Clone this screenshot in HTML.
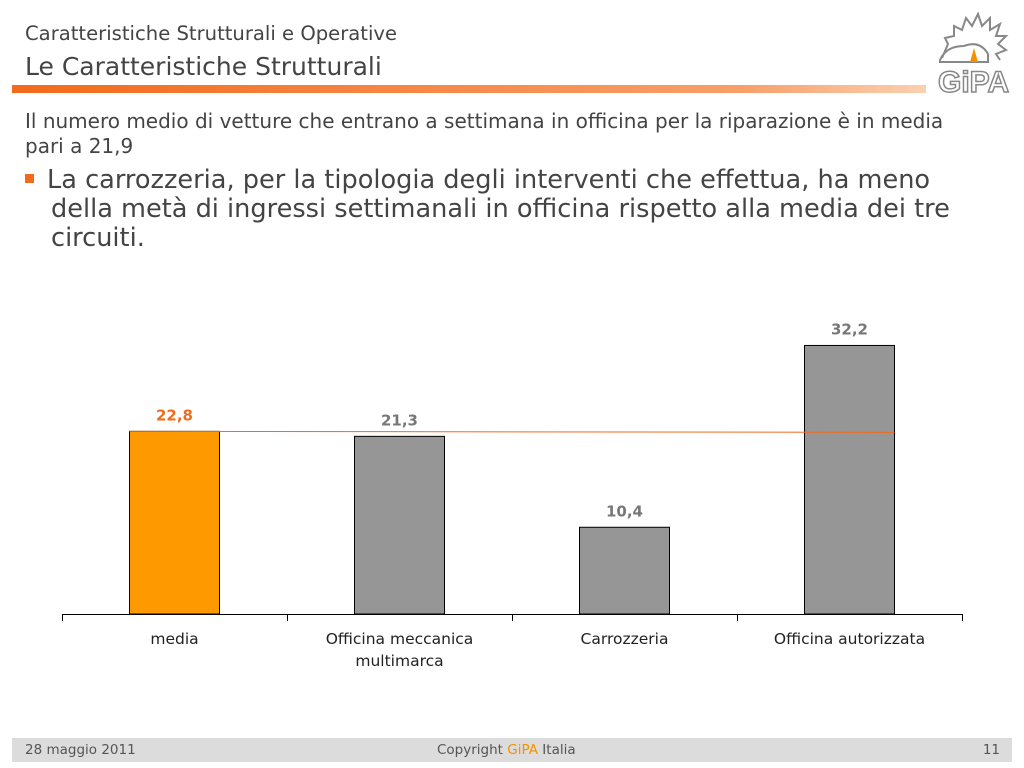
<!DOCTYPE html>
<html><head><meta charset="utf-8"><style>
body{margin:0;width:1024px;height:768px;background:#fff;position:relative;overflow:hidden;font-family:"DejaVu Sans","Liberation Sans",sans-serif;color:#555}
.abs{position:absolute}
</style></head><body>
<div class="abs" style="left:25px;top:22px;font-size:19.6px;color:#444">Caratteristiche Strutturali e Operative</div>
<div class="abs" style="left:25px;top:52px;font-size:25px;color:#444">Le Caratteristiche Strutturali</div>
<div class="abs" style="left:12px;top:85px;width:914px;height:8px;background:linear-gradient(to right,#f26a1b,#f7a06a 80%,#fbd0b0)"></div>
<svg class="abs" style="left:930px;top:10px" width="84" height="86" viewBox="0 0 84 86">
<path d="M12 48 L18 34 L15 28 L24 26 L24 16 L32 20 L36 8 L42 16 L48 4 L52 16 L60 8 L60 20 L70 14 L66 26 L76 26 L68 34 L76 40 L66 44 L70 50" fill="none" stroke="#888" stroke-width="2"/>
<path d="M10 50 Q16 36 34 36 Q50 30 58 44 L58 52 L10 52 Z" fill="none" stroke="#888" stroke-width="2"/>
<path d="M44 38 L40 52 L48 52 Z" fill="#f39200"/>
<text x="8" y="82" font-size="30" font-family="Liberation Sans" fill="#fff" stroke="#888" stroke-width="1.5" font-weight="bold">GiPA</text>
</svg>
<div class="abs" style="left:25px;top:109px;width:990px;font-size:20px;line-height:25px;color:#444;white-space:nowrap">Il numero medio di vetture che entrano a settimana in officina per la riparazione è in media<br>pari a 21,9</div>
<div class="abs" style="left:25px;top:174px;width:9px;height:9px;background:#f26a1b"></div>
<div class="abs" style="left:47px;top:166px;width:960px;font-size:25.6px;line-height:29px;color:#444;white-space:nowrap">La carrozzeria, per la tipologia degli interventi che effettua, ha meno<br><span style="padding-left:4px">della metà di ingressi settimanali in officina rispetto alla media dei tre</span><br><span style="padding-left:4px">circuiti.</span></div>
<svg class="abs" id="chart" style="left:0;top:0" width="1024" height="768"></svg>
<div class="abs" style="left:12px;top:738px;width:1000px;height:24px;background:#dcdcdc;font-size:13.5px;color:#555">
<span class="abs" style="left:13px;top:4px">28 maggio 2011</span>
<span class="abs" style="left:425px;top:4px">Copyright <span style="color:#f39200">GiPA</span> Italia</span>
<span class="abs" style="right:12px;top:4px">11</span>
</div>
<script>
const categories=[["media"],["Officina meccanica","multimarca"],["Carrozzeria"],["Officina autorizzata"]];
const values=[21.9,21.3,10.4,32.2];
const valueLabels=["22,8","21,3","10,4","32,2"];
const averageValue=21.9;
const svg=document.getElementById('chart');
const NS='http://www.w3.org/2000/svg';
const x0=62,x1=962,yBase=614,pxPerUnit=8.34;
const bw=(x1-x0)/categories.length;
const y=v=>yBase-v*pxPerUnit;
const cx=i=>x0+bw*(i+0.5);
function mk(t,a){const e=document.createElementNS(NS,t);for(const k in a)e.setAttribute(k,a[k]);svg.appendChild(e);return e;}
values.forEach((v,i)=>{
 const r=mk('rect',{x:cx(i)-45,y:y(v),width:90,height:v*pxPerUnit,fill:i==0?'#ff9900':'#969696',stroke:'#000','stroke-width':1});
 
 
 const t=mk('text',{x:cx(i),y:y(v)-11,'text-anchor':'middle','font-size':15,'font-weight':'bold',fill:i==0?'#f26a1b':'#777','font-family':'DejaVu Sans, sans-serif'});
 t.textContent=valueLabels[i];
 
 
 categories[i].forEach((ln,j)=>{
  const c=mk('text',{x:cx(i),y:644+j*22,'text-anchor':'middle','font-size':15.5,fill:'#222','font-family':'DejaVu Sans, sans-serif'});
  c.textContent=ln;
  
  
 });
});
const avg=mk('line',{x1:cx(0)-45,y1:y(averageValue),x2:cx(3)+45,y2:y(averageValue)+1,stroke:'#f26a1b','stroke-width':1});


const ax=mk('line',{x1:x0,y1:yBase+0.5,x2:x1,y2:yBase+0.5,stroke:'#000','stroke-width':1});


for(let i=0;i<=categories.length;i++){
 const tk=mk('line',{x1:x0+bw*i+0.5,y1:yBase,x2:x0+bw*i+0.5,y2:yBase+7,stroke:'#000','stroke-width':1});
 
 
}
</script>
</body></html>
